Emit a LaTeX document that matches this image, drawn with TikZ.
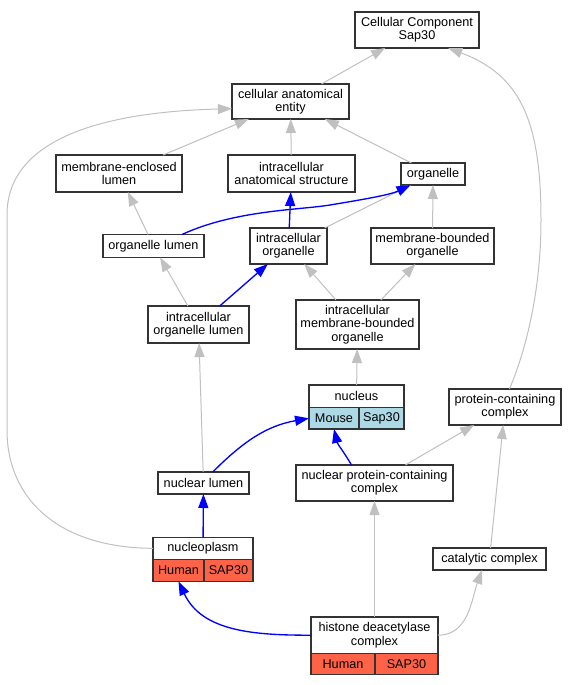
\documentclass[tikz,border=0pt]{standalone}
\usepackage{fontspec}
\setmainfont{Liberation Sans}
\usetikzlibrary{arrows.meta}
\definecolor{mousecol}{HTML}{ADD8E6}
\definecolor{humancol}{HTML}{FF6347}
\definecolor{edgegray}{HTML}{C0C0C0}

\begin{document}
\begin{tikzpicture}[x=0.75pt, y=0.75pt,
  term/.style={draw=black!80, line width=0.9pt, fill=white, align=center, inner sep=0pt, outer sep=0pt, font=\fontsize{9.5}{10}\selectfont},
  mouse/.style={term, fill=mousecol},
  human/.style={term, fill=humancol},
  isa/.style={draw=edgegray, line width=0.75pt, -{Triangle[length=10.5pt,width=7.5pt]}},
  ortho/.style={draw=blue, line width=1pt, -{Triangle[length=10.5pt,width=7.5pt]}}]
  \useasboundingbox (0,0) rectangle (578,-685);

  \node[term, minimum width=93pt, minimum height=27pt] (cc) at (417,-30) {Cellular Component\\Sap30};
  \node[term, minimum width=87.75pt, minimum height=26.25pt] (cae) at (290.5,-101.5) {cellular anatomical\\entity};
  \node[term, minimum width=94.5pt, minimum height=27.75pt] (mel) at (119,-173.5) {membrane-enclosed\\lumen};
  \node[term, minimum width=95.25pt, minimum height=27.75pt] (ias) at (291.5,-173.5) {intracellular\\anatomical structure};
  \node[term, minimum width=48pt, minimum height=16.5pt] (organelle) at (433,-174) {organelle};
  \node[term, minimum width=75.75pt, minimum height=17.25pt] (ol) at (153.5,-246) {organelle lumen};
  \node[term, minimum width=57.75pt, minimum height=27pt] (io) at (288.5,-246) {intracellular\\organelle};
  \node[term, minimum width=92.25pt, minimum height=27pt] (mbo) at (432.5,-246) {membrane-bounded\\organelle};
  \node[term, minimum width=75.75pt, minimum height=27.75pt] (iol) at (198.5,-324.5) {intracellular\\organelle lumen};
  \node[term, minimum width=92.25pt, minimum height=36.75pt] (imbo) at (357.5,-324.5) {intracellular\\membrane-bounded\\organelle};

  \node[term, minimum width=71.25pt, minimum height=17pt] (nucleus) at (356.5,-396.3) {nucleus};
  \node[mouse, minimum width=37.5pt, minimum height=16pt, anchor=north west] (nucMouse) at (nucleus.south west) {Mouse};
  \node[mouse, minimum width=33.75pt, minimum height=16pt, anchor=north west] (nucSap) at (nucMouse.north east) {Sap30};

  \node[term, minimum width=84pt, minimum height=27pt] (pcc) at (505,-407) {protein-containing\\complex};
  \node[term, minimum width=68.25pt, minimum height=16.5pt] (nl) at (203.5,-483) {nuclear lumen};
  \node[term, minimum width=117.75pt, minimum height=27pt] (npcc) at (374.5,-483) {nuclear protein-containing\\complex};

  \node[term, minimum width=75pt, minimum height=16.5pt] (nucleoplasm) at (203,-548.3) {nucleoplasm};
  \node[human, minimum width=38.25pt, minimum height=16.5pt, anchor=north west] (npHuman) at (nucleoplasm.south west) {Human};
  \node[human, minimum width=36.75pt, minimum height=16.5pt, anchor=north west] (npSap) at (npHuman.north east) {SAP30};

  \node[term, minimum width=84.75pt, minimum height=16.5pt] (cat) at (489.5,-559) {catalytic complex};

  \node[term, minimum width=95.25pt, minimum height=27.25pt] (hdc) at (374.5,-635.2) {histone deacetylase\\complex};
  \node[human, minimum width=48pt, minimum height=16pt, anchor=north west] (hdcHuman) at (hdc.south west) {Human};
  \node[human, minimum width=47.25pt, minimum height=16pt, anchor=north west] (hdcSap) at (hdcHuman.north east) {SAP30};

  \draw[isa] (cae) -- (cc);
  \draw[isa] (pcc.76) .. controls (530,-340) and (541,-280) .. (541,-220) .. controls (541,-120) and (520,-75) .. (cc.-30);
  \draw[isa] (mel) -- (cae);
  \draw[isa] (ias) -- (cae);
  \draw[isa] (organelle) -- (cae);
  \draw[isa] (nucleoplasm.west) .. controls (60,-548) and (7,-500) .. (7,-430) -- (7,-215) .. controls (7,-140) and (100,-112) .. (cae.187);
  \draw[isa] (ol) -- (mel);
  \draw[isa] (io) -- (organelle);
  \draw[isa] (mbo) -- (organelle);
  \draw[isa] (iol) -- (ol);
  \draw[isa] (imbo) -- (io);
  \draw[isa] (imbo) -- (mbo);
  \draw[isa] (nucleus) -- (imbo);
  \draw[isa] (nl) -- (iol);
  \draw[isa] (npcc) -- (pcc);
  \draw[isa] (cat) -- (pcc);
  \draw[isa] (hdc) -- (npcc);
  \draw[isa] (hdc.east) to[out=0,in=-110] (cat.236);

  \draw[ortho] (ol.22) .. controls (235,-210) and (300,-210) .. (330,-205) .. controls (360,-200) and (390,-195) .. (organelle.206);
  \draw[ortho] (io) -- (ias);
  \draw[ortho] (iol) -- (io);
  \draw[ortho] (nl.50) to[out=45,in=190] (nucMouse.west);
  \draw[ortho] (npcc.142) to[out=120,in=-77] (nucMouse.south);
  \draw[ortho] (nucleoplasm) -- (nl);
  \draw[ortho] (hdc.west) to[out=180,in=-65] (npHuman.south);
\end{tikzpicture}
\end{document}
